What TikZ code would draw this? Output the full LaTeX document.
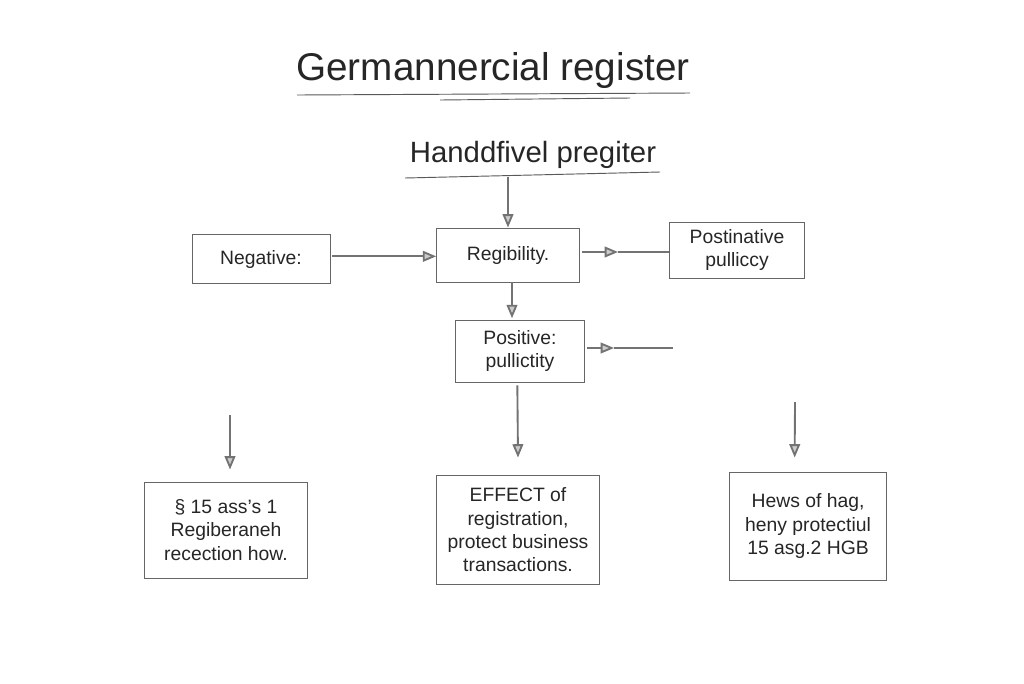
\documentclass[tikz,border=0pt]{standalone}
\usepackage{fontspec}
\setmainfont{Liberation Sans}
\usetikzlibrary{arrows.meta}

\begin{document}
\begin{tikzpicture}[
  x=0.75pt, y=-0.75pt,
  box/.style={draw=black!60, line width=0.7pt, rectangle, align=center, inner sep=2pt, text=black!85, font=\fontsize{14.5}{17.5}\selectfont},
  heading/.style={text=black!85, inner sep=0pt},
  arrow/.style={-{Triangle[length=10pt, width=8pt, fill=black!20]}, draw=black!55, line width=1.4pt},
  plain/.style={draw=black!55, line width=1.4pt},
  rule/.style={draw=black!65, line width=0.7pt}
]
\useasboundingbox[fill=white] (0,0) rectangle (1024,683);

% Headings
\node[heading, font=\fontsize{29}{32}\selectfont] (title) at (493,70) {Germannercial register};
\node[heading, font=\fontsize{22}{25}\selectfont] (sub) at (533,155) {Handdfivel pregiter};

\draw[rule] (297,95) -- (690,93);
\draw[rule] (440,100) -- (630,98);
\draw[rule] (405,178) -- (660,172);

% Boxes
\node[box, minimum width=103.5pt, minimum height=36.75pt] (neg) at (261,259) {Negative:};
\node[box, minimum width=107pt, minimum height=40.5pt] (reg) at (508,255) {Regibility.};
\node[box, minimum width=101pt, minimum height=42pt] (post) at (737,250) {Postinative\\pulliccy};
\node[box, minimum width=97pt, minimum height=46.5pt] (pos) at (520,351) {Positive:\\pullictity};

\node[box, minimum width=122pt, minimum height=72pt] (law) at (226,530) {§ 15 ass's 1\\Regiberaneh\\recection how.};
\node[box, minimum width=122pt, minimum height=82pt] (effect) at (518,530) {EFFECT of\\registration,\\protect business\\transactions.};
\node[box, minimum width=118pt, minimum height=81pt] (hgb) at (808,526) {Hews of hag,\\heny protectiul\\15 asg.2 HGB};

% Free ends
\coordinate (midA) at (618,252);
\coordinate (endA) at (post.west |- midA);
\coordinate (midB) at (614,348);
\coordinate (endB) at (673,348);
\coordinate (topL) at (230,415);
\coordinate (topR) at (795,402);

% Arrows
\draw[arrow] (sub.south -| reg.north) ++(0,8) -- (reg.north);
\draw[arrow] ([xshift=1.5pt, yshift=2pt]neg.east) -- ([yshift=2pt]neg.east -| reg.west);

\draw[arrow] (reg.east |- midA) ++(2,0) -- (midA);
\draw[plain] (midA) -- (endA);

\draw[arrow] ([xshift=3pt]reg.south) -- ([xshift=-6pt, yshift=1pt]pos.north);

\draw[arrow] (pos.east |- midB) ++(2,0) -- (midB);
\draw[plain] (midB) -- (endB);

\draw[arrow] ([xshift=-2pt]pos.south) ++(0,3) -- ([yshift=13pt]effect.north);
\draw[arrow] (topL) -- ([yshift=9pt, xshift=3pt]law.north);
\draw[arrow] (topR) -- ([yshift=10.5pt, xshift=-10pt]hgb.north);

\end{tikzpicture}
\end{document}
